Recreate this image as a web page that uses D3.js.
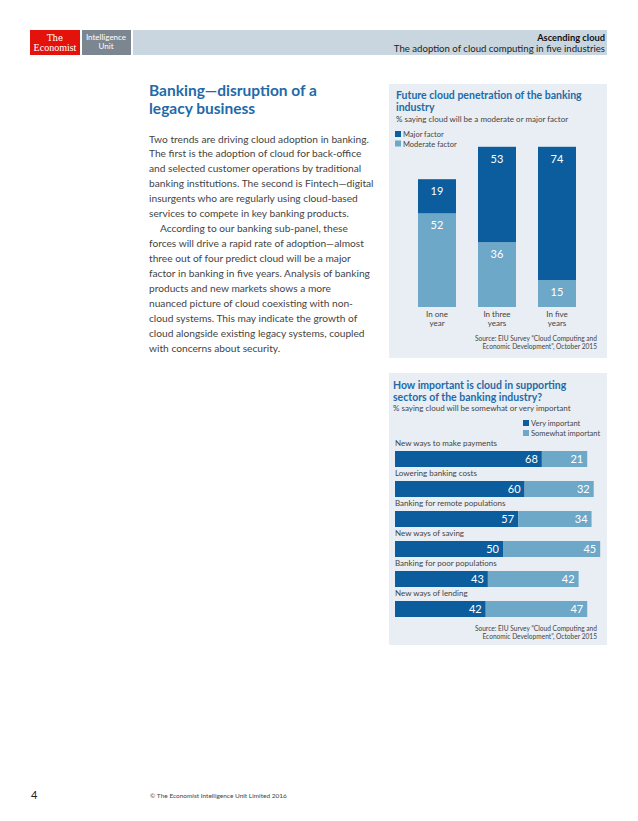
<!DOCTYPE html>
<html><head><meta charset="utf-8">
<script src="https://cdn.jsdelivr.net/npm/d3@7"></script>
<style>
html,body{margin:0;padding:0;background:#fff;}
svg{display:block;}
text{font-family:"Lato","Open Sans",sans-serif;}
</style></head>
<body>
<script>
// ---------- data ----------
const headerTitle = "Ascending cloud";
const headerSub = "The adoption of cloud computing in five industries";
const heading = ["Banking\u2014disruption of a", "legacy business"];
const bodyLines = [
 "Two trends are driving cloud adoption in banking.",
 "The first is the adoption of cloud for back-office",
 "and selected customer operations by traditional",
 "banking institutions. The second is Fintech\u2014digital",
 "insurgents who are regularly using cloud-based",
 "services to compete in key banking products.",
 "According to our banking sub-panel, these",
 "forces will drive a rapid rate of adoption\u2014almost",
 "three out of four predict cloud will be a major",
 "factor in banking in five years. Analysis of banking",
 "products and new markets shows a more",
 "nuanced picture of cloud coexisting with non-",
 "cloud systems. This may indicate the growth of",
 "cloud alongside existing legacy systems, coupled",
 "with concerns about security."
];
const indentedLines = [6];

const c1Title = ["Future cloud penetration of the banking", "industry"];
const c1Sub = "% saying cloud will be a moderate or major factor";
const c1Categories = [["In one","year"],["In three","years"],["In five","years"]];
const c1Keys = ["Moderate factor","Major factor"];
const c1Moderate = [52, 36, 15];
const c1Major = [19, 53, 74];
const source = ["Source: EIU Survey \u201cCloud Computing and", "Economic Development\u201d, October 2015"];

const c2Title = ["How important is cloud in supporting", "sectors of the banking industry?"];
const c2Sub = "% saying cloud will be somewhat or very important";
const c2Categories = ["New ways to make payments","Lowering banking costs","Banking for remote populations","New ways of saving","Banking for poor populations","New ways of lending"];
const c2Very = [68, 60, 57, 50, 43, 42];
const c2Somewhat = [21, 32, 34, 45, 42, 47];
const c2Keys = ["Very important","Somewhat important"];

const footer = "\u00a9 The Economist Intelligence Unit Limited 2016";
const pageNo = "4";

// ---------- styles ----------
const DARK = "#0b5d9d", LIGHT = "#6da8c9", PANEL = "#e8eef3", TITLE = "#1f6aa8", TXT = "#444";

const W = 638, H = 821;
const svg = d3.select("body").append("svg").attr("width", W).attr("height", H);

// ---------- header ----------
svg.append("rect").attr("x",30).attr("y",30).attr("width",50).attr("height",25).attr("fill","#e3120b");
svg.append("rect").attr("x",82).attr("y",30).attr("width",49).attr("height",25).attr("fill","#7b8691");
svg.append("rect").attr("x",133).attr("y",30).attr("width",474).attr("height",25).attr("fill","#c9d6df");
svg.append("text").attr("x",55).attr("y",41).attr("text-anchor","middle").attr("fill","#fff")
  .style("font-family","'DejaVu Serif','Liberation Serif',serif").style("font-size","8.5px").text("The");
svg.append("text").attr("x",55).attr("y",51).attr("text-anchor","middle").attr("fill","#fff")
  .style("font-family","'Liberation Serif','DejaVu Serif',serif").style("font-size","10px").text("Economist");
svg.append("text").attr("x",106).attr("y",40).attr("text-anchor","middle").attr("fill","#fff")
  .style("font-size","8px").text("Intelligence");
svg.append("text").attr("x",106).attr("y",49).attr("text-anchor","middle").attr("fill","#fff")
  .style("font-size","8px").text("Unit");
svg.append("text").attr("x",605).attr("y",41).attr("text-anchor","end").attr("fill","#111")
  .style("font-size","9.3px").style("font-weight","bold").text(headerTitle);
svg.append("text").attr("x",605).attr("y",52).attr("text-anchor","end").attr("fill","#222")
  .style("font-size","9.6px").text(headerSub);

// ---------- left text ----------
heading.forEach((t,i)=>svg.append("text").attr("x",149).attr("y",95.5+i*18.5)
  .attr("fill",TITLE).style("font-size","15.5px").style("font-weight","bold").text(t));
bodyLines.forEach((t,i)=>svg.append("text").attr("x",indentedLines.includes(i)?160:149).attr("y",142.5+i*14.93)
  .attr("fill",TXT).style("font-size","10.2px").text(t));

// ---------- chart 1 ----------
const g1 = svg.append("g");
g1.append("rect").attr("x",389).attr("y",84).attr("width",218).attr("height",274).attr("fill",PANEL);
c1Title.forEach((t,i)=>g1.append("text").attr("x",396).attr("y",99+i*12)
  .attr("fill",TITLE).style("font-size","10.5px").style("font-weight","bold").text(t));
g1.append("text").attr("x",396).attr("y",122).attr("fill",TXT).style("font-size","8px").text(c1Sub);
[["Major factor",DARK],["Moderate factor",LIGHT]].forEach((d,i)=>{
  g1.append("rect").attr("x",395).attr("y",131+i*9.5).attr("width",6).attr("height",6).attr("fill",d[1]);
  g1.append("text").attr("x",403).attr("y",137+i*9.5).attr("fill",TXT).style("font-size","7.5px").text(d[0]);
});
const catKeys = c1Categories.map(d=>d.join(" "));
const x1 = d3.scaleBand().domain(catKeys).range([407,587]).paddingInner(22/60).paddingOuter(11/60);
const y1 = d3.scaleLinear().domain([0,100]).range([307,127]);
const rows1 = catKeys.map((k,i)=>({cat:k, "Moderate factor":c1Moderate[i], "Major factor":c1Major[i]}));
const stack1 = d3.stack().keys(c1Keys)(rows1);
const col1 = {"Moderate factor":LIGHT, "Major factor":DARK};
stack1.forEach(layer=>{
  layer.forEach(d=>{
    g1.append("rect").attr("x",x1(d.data.cat)).attr("y",y1(d[1])).attr("width",x1.bandwidth())
      .attr("height",y1(d[0])-y1(d[1])).attr("fill",col1[layer.key]);
    g1.append("text").attr("x",x1(d.data.cat)+x1.bandwidth()/2).attr("y",y1(d[1])+16)
      .attr("text-anchor","middle").attr("fill","#fff").style("font-size","11px").text(d[1]-d[0]);
  });
});
c1Categories.forEach((c,i)=>c.forEach((t,j)=>g1.append("text")
  .attr("x",x1(catKeys[i])+x1.bandwidth()/2).attr("y",317+j*9).attr("text-anchor","middle")
  .attr("fill",TXT).style("font-size","8px").text(t)));
source.forEach((t,i)=>g1.append("text").attr("x",597).attr("y",341+i*8).attr("text-anchor","end")
  .attr("fill",TXT).style("font-size","6.6px").text(t));

// ---------- chart 2 ----------
const g2 = svg.append("g");
g2.append("rect").attr("x",389).attr("y",373).attr("width",218).attr("height",272).attr("fill",PANEL);
c2Title.forEach((t,i)=>g2.append("text").attr("x",393).attr("y",389+i*11.5)
  .attr("fill",TITLE).style("font-size","10.5px").style("font-weight","bold").text(t));
g2.append("text").attr("x",393).attr("y",411).attr("fill",TXT).style("font-size","8px").text(c2Sub);
[[c2Keys[0],DARK],[c2Keys[1],LIGHT]].forEach((d,i)=>{
  g2.append("rect").attr("x",523).attr("y",420+i*10).attr("width",6).attr("height",6).attr("fill",d[1]);
  g2.append("text").attr("x",531).attr("y",426+i*10).attr("fill",TXT).style("font-size","7.5px").text(d[0]);
});
const x2 = d3.scaleLinear().domain([0,100]).range([395,611]);
const y2 = d3.scaleBand().domain(c2Categories).range([444,624]).paddingInner(14/30).paddingOuter(7/30);
const rows2 = c2Categories.map((c,i)=>({cat:c, [c2Keys[0]]:c2Very[i], [c2Keys[1]]:c2Somewhat[i]}));
const stack2 = d3.stack().keys(c2Keys)(rows2);
const col2 = {[c2Keys[0]]:DARK, [c2Keys[1]]:LIGHT};
stack2.forEach(layer=>{
  layer.forEach(d=>{
    g2.append("rect").attr("x",x2(d[0])).attr("y",y2(d.data.cat)).attr("width",x2(d[1])-x2(d[0]))
      .attr("height",y2.bandwidth()).attr("fill",col2[layer.key]);
    g2.append("text").attr("x",x2(d[1])-4).attr("y",y2(d.data.cat)+y2.bandwidth()/2+4)
      .attr("text-anchor","end").attr("fill","#fff").style("font-size","11px").text(d[1]-d[0]);
  });
});
c2Categories.forEach(c=>g2.append("text").attr("x",395).attr("y",y2(c)-5)
  .attr("fill",TXT).style("font-size","8px").text(c));
source.forEach((t,i)=>g2.append("text").attr("x",597).attr("y",631+i*8).attr("text-anchor","end")
  .attr("fill",TXT).style("font-size","6.6px").text(t));

// ---------- footer ----------
svg.append("text").attr("x",31).attr("y",799).attr("fill","#222").style("font-size","11px").text(pageNo);
svg.append("text").attr("x",150).attr("y",798).attr("fill",TXT).style("font-size","6.5px").text(footer);
</script>
</body></html>
